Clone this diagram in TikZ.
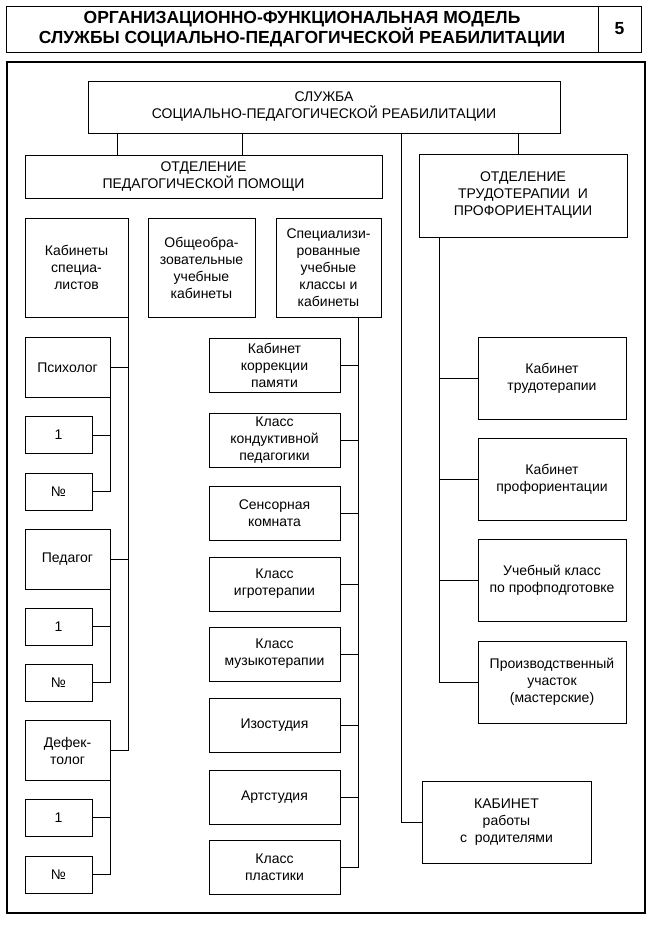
\documentclass[tikz,border=0pt]{standalone}
\usepackage{fontspec}
\setmainfont{Liberation Sans}

\begin{document}
\begin{tikzpicture}[x=1pt, y=-1pt, line width=0.9pt,
	blk/.style={draw, align=center, inner sep=0pt, font=\fontsize{14}{17}\selectfont},
	spc/.style={blk, minimum width=85pt, minimum height=60pt},
	sml/.style={blk, minimum width=67pt, minimum height=37pt},
	mid/.style={blk, minimum width=131pt, minimum height=54pt},
	rgt/.style={blk, minimum width=148pt, minimum height=82pt}]
	\useasboundingbox (0,0) rectangle (653,926);

	\node [draw, align=center, minimum width=592pt, minimum height=46pt, font=\fontsize{17.5}{20}\selectfont\bfseries] (title) at (302,29)
		{ОРГАНИЗАЦИОННО-ФУНКЦИОНАЛЬНАЯ МОДЕЛЬ \\ СЛУЖБЫ СОЦИАЛЬНО-ПЕДАГОГИЧЕСКОЙ РЕАБИЛИТАЦИИ};
	\node [draw, minimum width=43pt, minimum height=46pt, font=\fontsize{17.5}{20}\selectfont\bfseries] (num) at (619.5,29) {5};
	\draw [line width=1.1pt] (7,62) rectangle (645,913);

	\node [blk, minimum width=472pt, minimum height=52pt] (sluzhba) at (324,107)
		{СЛУЖБА \\ СОЦИАЛЬНО-ПЕДАГОГИЧЕСКОЙ РЕАБИЛИТАЦИИ};
	\node [blk, minimum width=357pt, minimum height=43pt] (otdPed) at (203.5,176.5)
		{ОТДЕЛЕНИЕ \\ ПЕДАГОГИЧЕСКОЙ ПОМОЩИ};
	\node [blk, minimum width=208pt, minimum height=83pt] (otdTrud) at (523,195.5)
		{ОТДЕЛЕНИЕ \\ ТРУДОТЕРАПИИ~~И \\ ПРОФОРИЕНТАЦИИ};

	\node [blk, minimum width=103pt, minimum height=99pt] (kabSpec) at (76.5,267.5)
		{Кабинеты \\ специа- \\ листов};
	\node [blk, minimum width=107pt, minimum height=99pt] (obsh) at (201.5,267.5)
		{Общеобра- \\ зовательные \\ учебные \\ кабинеты};
	\node [blk, minimum width=105pt, minimum height=99pt] (spec) at (328.5,267.5)
		{Специализи- \\ рованные \\ учебные \\ классы и \\ кабинеты};

	\node [spc] (psych) at (67.5,367.5) {Психолог};
	\node [sml] (psych1) at (58.5,435) {1};
	\node [sml] (psychN) at (58.5,491.5) {№};
	\node [spc] (ped) at (67.5,559.5) {Педагог};
	\node [sml] (ped1) at (58.5,626.5) {1};
	\node [sml] (pedN) at (58.5,682.5) {№};
	\node [spc] (def) at (67.5,750.5) {Дефек- \\ толог};
	\node [sml] (def1) at (58.5,817.5) {1};
	\node [sml] (defN) at (58.5,874.5) {№};

	\node [mid] (kor) at (274.5,365) {Кабинет \\ коррекции \\ памяти};
	\node [mid] (kond) at (274.5,440) {Класс \\ кондуктивной \\ педагогики};
	\node [mid] (sens) at (274.5,513) {Сенсорная \\ комната};
	\node [mid] (igro) at (274.5,584) {Класс \\ игротерапии};
	\node [mid] (muz) at (274.5,654) {Класс \\ музыкотерапии};
	\node [mid] (izo) at (274.5,725.5) {Изостудия};
	\node [mid] (art) at (274.5,797) {Артстудия};
	\node [mid] (plast) at (274.5,867.5) {Класс \\ пластики};

	\node [rgt] (trudo) at (552,378) {Кабинет \\ трудотерапии};
	\node [rgt] (prof) at (552,479) {Кабинет \\ профориентации};
	\node [rgt] (uch) at (552,580.5) {Учебный класс \\ по профподготовке};
	\node [rgt] (proizv) at (552,682) {Производственный \\ участок \\ (мастерские)};
	\node [blk, minimum width=169pt, minimum height=82pt] (kabRod) at (506.5,822)
		{КАБИНЕТ \\ работы \\ с~~родителями};

	\coordinate (c1) at (117,0);
	\coordinate (c2) at (242,0);
	\coordinate (c3) at (401,0);
	\coordinate (c4) at (518,0);
	\coordinate (c5) at (358,0);
	\coordinate (c6) at (439,0);

	\draw (sluzhba.south -| c1) -- (otdPed.north -| c1);
	\draw (sluzhba.south -| c2) -- (otdPed.north -| c2);
	\draw (sluzhba.south -| c4) -- (otdTrud.north -| c4);
	\draw (sluzhba.south -| c3) |- (kabRod.west);

	\draw (kabSpec.south east) |- (def.east);
	\draw (psych.east) -- (psych.east -| kabSpec.east);
	\draw (ped.east) -- (ped.east -| kabSpec.east);
	\draw (psych.south east) |- (psychN.east);
	\draw (psych1.east) -- (psych1.east -| psych.east);
	\draw (ped.south east) |- (pedN.east);
	\draw (ped1.east) -- (ped1.east -| ped.east);
	\draw (def.south east) |- (defN.east);
	\draw (def1.east) -- (def1.east -| def.east);

	\draw (spec.south -| c5) |- (plast.east);
	\draw (kor.east) -- (kor.east -| c5);
	\draw (kond.east) -- (kond.east -| c5);
	\draw (sens.east) -- (sens.east -| c5);
	\draw (igro.east) -- (igro.east -| c5);
	\draw (muz.east) -- (muz.east -| c5);
	\draw (izo.east) -- (izo.east -| c5);
	\draw (art.east) -- (art.east -| c5);

	\draw (otdTrud.south -| c6) |- (proizv.west);
	\draw (trudo.west) -- (trudo.west -| c6);
	\draw (prof.west) -- (prof.west -| c6);
	\draw (uch.west) -- (uch.west -| c6);
\end{tikzpicture}
\end{document}
